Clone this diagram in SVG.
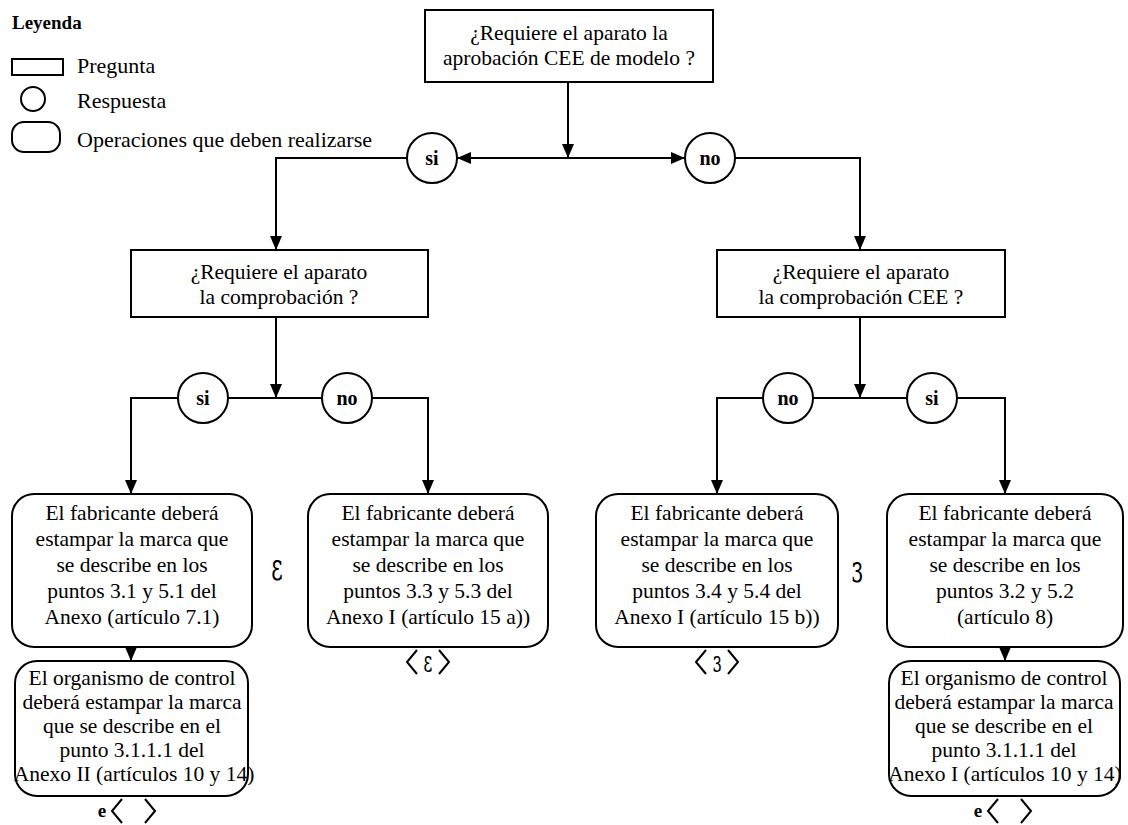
<svg xmlns="http://www.w3.org/2000/svg" width="1128" height="825" viewBox="0 0 1128 825">
<style>
.bx{fill:#fff;stroke:#000;stroke-width:2}
.ln{fill:none;stroke:#000;stroke-width:2}
.ar{fill:none;stroke:#000;stroke-width:2;marker-end:url(#ah)}
.t{font-family:"Liberation Serif","Times New Roman",serif;font-size:21.5px;fill:#000;text-anchor:middle}
.lg{font-family:"Liberation Serif","Times New Roman",serif;font-size:22px;fill:#000}
.c{font-family:"Liberation Serif","Times New Roman",serif;font-size:20px;font-weight:bold;fill:#000;text-anchor:middle}
.m{font-family:"DejaVu Serif",serif;fill:#000;text-anchor:middle}
.e{font-family:"Liberation Serif",serif;font-size:19px;font-weight:bold;fill:#000;text-anchor:middle}
</style>
<defs>
<marker id="ah" markerUnits="userSpaceOnUse" markerWidth="14" markerHeight="12" refX="14" refY="6" orient="auto">
<path d="M0,0 L14,6 L0,12 z" fill="#000"/>
</marker>
</defs>
<rect width="1128" height="825" fill="#fff"/>

<g id="legend">
<text x="12" y="29" font-family="Liberation Serif, serif" font-size="19" font-weight="bold">Leyenda</text>
<rect class="bx" x="12" y="59" width="51" height="16"/>
<text class="lg" x="77" y="73">Pregunta</text>
<circle class="bx" cx="33" cy="99" r="12"/>
<text class="lg" x="77" y="108">Respuesta</text>
<rect class="bx" x="12" y="122" width="48" height="30" rx="12"/>
<text class="lg" x="77" y="147">Operaciones que deben realizarse</text>
</g>

<g id="connectors">
<line class="ar" x1="568" y1="82" x2="568" y2="158"/>
<line class="ar" x1="568" y1="158" x2="457" y2="158"/>
<line class="ar" x1="568" y1="158" x2="685" y2="158"/>
<polyline class="ar" points="407,158 276,158 276,250"/>
<polyline class="ar" points="735,158 860,158 860,250"/>
<line class="ar" x1="276" y1="317" x2="276" y2="398"/>
<line class="ar" x1="860" y1="317" x2="860" y2="398"/>
<polyline class="ar" points="178,398 131,398 131,494"/>
<line class="ln" x1="228" y1="398" x2="322" y2="398"/>
<polyline class="ar" points="372,398 428,398 428,494"/>
<polyline class="ar" points="763,398 717,398 717,494"/>
<line class="ln" x1="813" y1="398" x2="907" y2="398"/>
<polyline class="ar" points="957,398 1005,398 1005,494"/>
<line class="ar" x1="131" y1="647" x2="131" y2="661"/>
<line class="ar" x1="1005" y1="647" x2="1005" y2="661"/>
</g>

<g id="q1">
<rect class="bx" x="425" y="10" width="288" height="72"/>
<text class="t" x="569" y="40">¿Requiere el aparato la</text>
<text class="t" x="569" y="65">aprobación CEE de modelo ?</text>
</g>

<g id="a-si-1"><circle class="bx" cx="432" cy="158" r="25"/><text class="c" x="432" y="165">si</text></g>
<g id="a-no-1"><circle class="bx" cx="710" cy="158" r="25"/><text class="c" x="710" y="165">no</text></g>

<g id="q2">
<rect class="bx" x="131" y="250" width="297" height="67"/>
<text class="t" x="279" y="279">¿Requiere el aparato</text>
<text class="t" x="279" y="304">la comprobación ?</text>
</g>
<g id="q3">
<rect class="bx" x="717" y="250" width="288" height="67"/>
<text class="t" x="861" y="279">¿Requiere el aparato</text>
<text class="t" x="861" y="304">la comprobación CEE ?</text>
</g>

<g id="a-si-2"><circle class="bx" cx="203" cy="398" r="25"/><text class="c" x="203" y="405">si</text></g>
<g id="a-no-2"><circle class="bx" cx="347" cy="398" r="25"/><text class="c" x="347" y="405">no</text></g>
<g id="a-no-3"><circle class="bx" cx="788" cy="398" r="25"/><text class="c" x="788" y="405">no</text></g>
<g id="a-si-3"><circle class="bx" cx="932" cy="398" r="25"/><text class="c" x="932" y="405">si</text></g>

<g id="op1">
<rect class="bx" x="12" y="494" width="240" height="153" rx="22"/>
<text class="t" x="132" y="520">El fabricante deberá</text>
<text class="t" x="132" y="546">estampar la marca que</text>
<text class="t" x="132" y="572">se describe en los</text>
<text class="t" x="132" y="598">puntos 3.1 y 5.1 del</text>
<text class="t" x="132" y="624">Anexo (artículo 7.1)</text>
</g>
<g id="op2">
<rect class="bx" x="308" y="494" width="240" height="153" rx="22"/>
<text class="t" x="428" y="520">El fabricante deberá</text>
<text class="t" x="428" y="546">estampar la marca que</text>
<text class="t" x="428" y="572">se describe en los</text>
<text class="t" x="428" y="598">puntos 3.3 y 5.3 del</text>
<text class="t" x="428" y="624">Anexo I (artículo 15 a))</text>
</g>
<g id="op3">
<rect class="bx" x="596" y="494" width="242" height="153" rx="22"/>
<text class="t" x="717" y="520">El fabricante deberá</text>
<text class="t" x="717" y="546">estampar la marca que</text>
<text class="t" x="717" y="572">se describe en los</text>
<text class="t" x="717" y="598">puntos 3.4 y 5.4 del</text>
<text class="t" x="717" y="624">Anexo I (artículo 15 b))</text>
</g>
<g id="op4">
<rect class="bx" x="887" y="494" width="236" height="153" rx="22"/>
<text class="t" x="1005" y="520">El fabricante deberá</text>
<text class="t" x="1005" y="546">estampar la marca que</text>
<text class="t" x="1005" y="572">se describe en los</text>
<text class="t" x="1005" y="598">puntos 3.2 y 5.2</text>
<text class="t" x="1005" y="624">(artículo 8)</text>
</g>
<g id="op5">
<rect class="bx" x="15" y="661" width="233" height="135" rx="22"/>
<text class="t" x="132" y="685">El organismo de control</text>
<text class="t" x="132" y="709">deberá estampar la marca</text>
<text class="t" x="132" y="733">que se describe en el</text>
<text class="t" x="132" y="757">punto 3.1.1.1 del</text>
<text class="t" x="134" y="781">Anexo II (artículos 10 y 14)</text>
</g>
<g id="op6">
<rect class="bx" x="889" y="661" width="231" height="135" rx="22"/>
<text class="t" x="1004" y="685">El organismo de control</text>
<text class="t" x="1004" y="709">deberá estampar la marca</text>
<text class="t" x="1004" y="733">que se describe en el</text>
<text class="t" x="1004" y="757">punto 3.1.1.1 del</text>
<text class="t" x="1005" y="781">Anexo I (artículos 10 y 14)</text>
</g>

<g id="marks">
<text class="m" font-size="26" transform="translate(277,580) scale(0.85,1.5)">ɛ</text>
<text class="m" font-size="26" transform="translate(857,582) scale(0.85,1.5)">ɜ</text>
<polyline class="ln" points="417,650 407,662 417,674"/>
<polyline class="ln" points="439,650 449,662 439,674"/>
<text class="m" font-size="20" transform="translate(428,672) scale(0.85,1.45)">ɛ</text>
<polyline class="ln" points="706,650 696,662 706,674"/>
<polyline class="ln" points="728,650 738,662 728,674"/>
<text class="m" font-size="20" transform="translate(717,672) scale(0.85,1.45)">ɜ</text>
<text class="e" x="102" y="817">e</text>
<polyline class="ln" points="122,799 112,811 122,823"/>
<polyline class="ln" points="145,799 155,811 145,823"/>
<text class="e" x="978" y="817">e</text>
<polyline class="ln" points="998,799 988,811 998,823"/>
<polyline class="ln" points="1021,799 1031,811 1021,823"/>
</g>
</svg>
